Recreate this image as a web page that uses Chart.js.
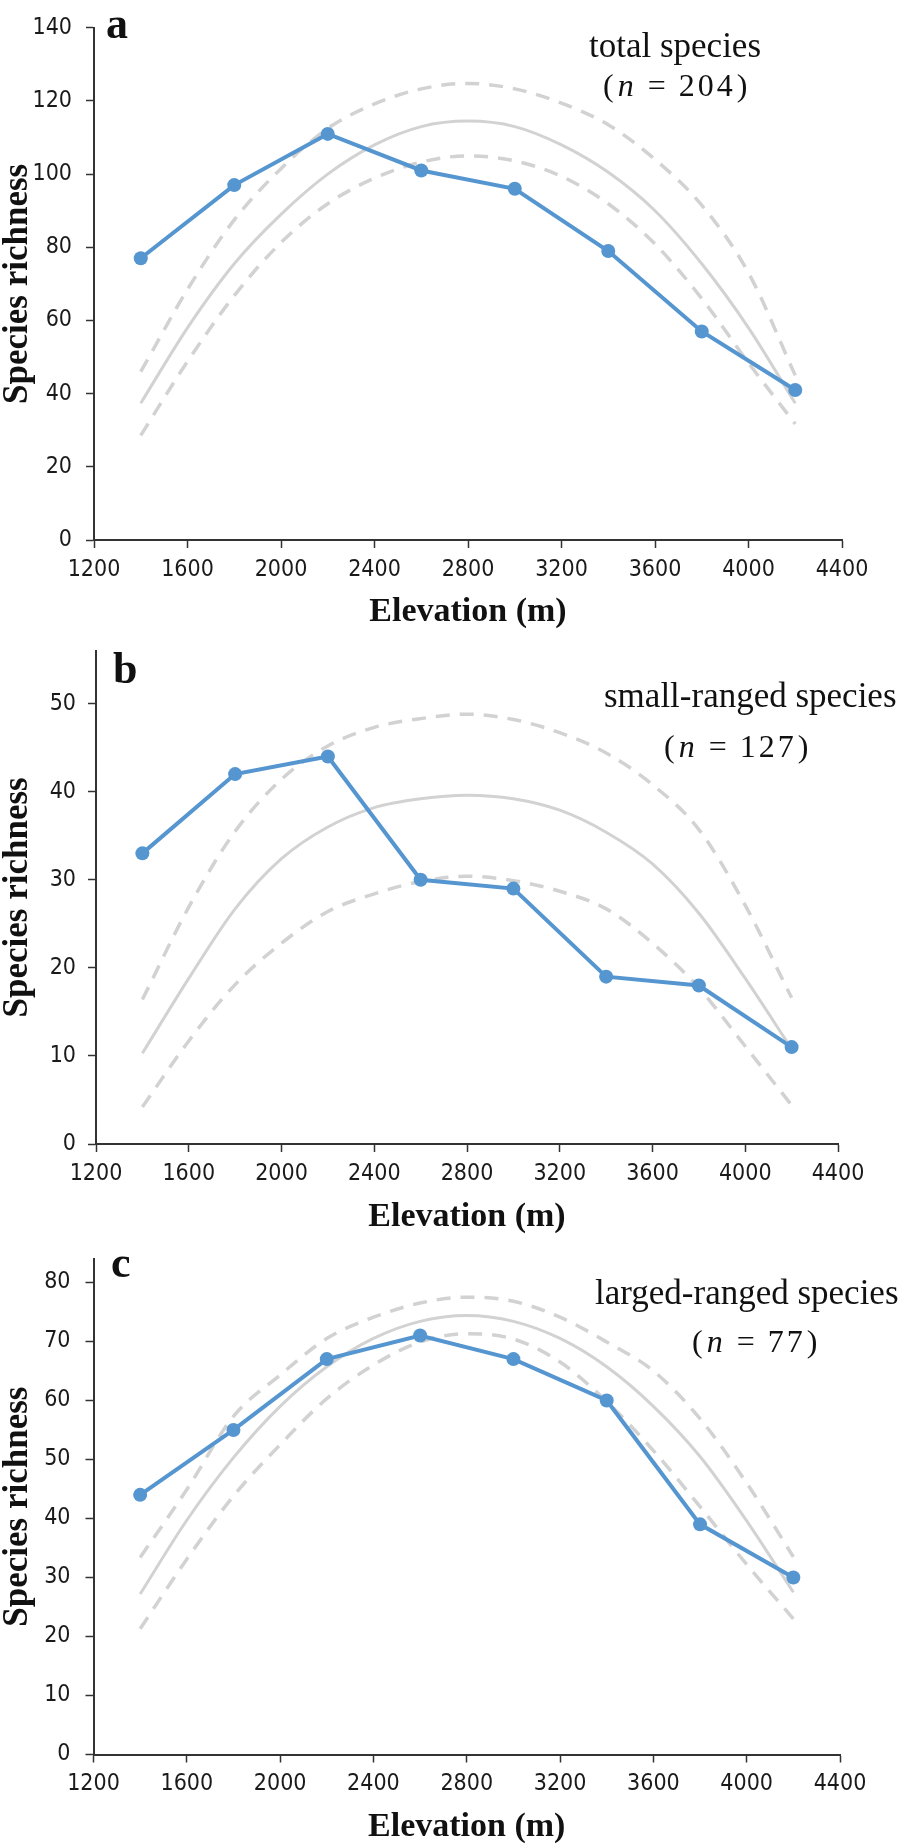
<!DOCTYPE html>
<html>
<head>
<meta charset="utf-8">
<script src="https://cdn.jsdelivr.net/npm/chart.js@4.4.1/dist/chart.umd.min.js"></script>
<style>
  body { margin: 0; background: #fff; }
  #wrap { position: relative; width: 898px; height: 1846px; overflow: hidden; }
  canvas { position: absolute; left: 0; display: block; }
</style>
</head>
<body>
<div id="wrap">
  <canvas id="chartA" width="898" height="640" style="top:0px"></canvas>
  <canvas id="chartB" width="898" height="620" style="top:625px"></canvas>
  <canvas id="chartC" width="898" height="616" style="top:1230px"></canvas>
</div>
<script>
// sampled elevations (m)
const elevations = [1400, 1800, 2200, 2600, 3000, 3400, 3800, 4200];
const fitElevations = [1400, 1600, 1800, 2000, 2200, 2400, 2600, 2800, 3000, 3200, 3400, 3600, 3800, 4000, 4200];

// a: total species (n = 204)
const richnessTotal = [77, 97, 111, 101, 96, 79, 57, 41];
const fitTotal   = [37.4, 58, 75.5, 89, 100, 108, 113, 114.5, 113, 108, 100.5, 90, 75.5, 58, 37.4];
const upperTotal = [46, 68.5, 87.5, 101.5, 112.5, 119.2, 123.3, 124.8, 123.3, 119.4, 113.5, 104, 91.5, 73, 45];
const lowerTotal = [28.6, 48.8, 66.8, 81.3, 91.9, 98.9, 103.3, 105, 103.6, 99.4, 91.9, 80.9, 66, 48.4, 31.7];

// b: small-ranged species (n = 127)
const richnessSmall = [33, 42, 44, 30, 29, 19, 18, 11];
const fitSmall   = [10.3, 18.8, 26.7, 32.4, 36, 38.2, 39.2, 39.6, 39.2, 37.9, 35.4, 31.8, 26.2, 18.8, 10.8];
const upperSmall = [16.4, 26.9, 35.5, 41.4, 45.2, 47.3, 48.3, 48.8, 48.2, 46.7, 44.4, 40.8, 35.7, 27.1, 16.6];
const lowerSmall = [4.2, 11.7, 18.1, 22.8, 26.4, 28.4, 29.8, 30.4, 29.9, 28.7, 26.7, 22.8, 17.7, 11.1, 4.4];

// c: large-ranged species (n = 77)
const richnessLarge = [44, 55, 67, 71, 67, 60, 39, 30];
const fitLarge   = [27.2, 39.7, 50.3, 59, 65.7, 70.5, 73.4, 74.4, 73.4, 70.5, 65.7, 59, 50.5, 39.6, 27.5];
const upperLarge = [33.4, 44.9, 57.3, 64.3, 70.5, 74.1, 76.5, 77.5, 76.8, 74.1, 69.9, 65, 56.9, 46, 33.5];
const lowerLarge = [21.3, 33.1, 43.8, 52.5, 60.3, 66, 69.9, 71.3, 70.4, 66.5, 59.8, 51.5, 42, 32.2, 23];

const BLUE = '#5596d0';
const GREY = '#d2d2d2';
const AXIS = '#333333';
const TICK_FONT = "'Liberation Sans Narrow', 'DejaVu Sans Condensed', sans-serif";
const SERIF = "'Liberation Serif', 'Times New Roman', serif";

function pts(xs, ys) {
  return xs.map((x, i) => ({ x: x, y: ys[i] }));
}

// "(n = 204)" with an italic n and loose spacing, left aligned at x
function drawCount(ctx, x, y, num) {
  ctx.textAlign = 'left';
  ctx.font = '32px ' + SERIF;
  ctx.fillText('(', x, y);
  x += ctx.measureText('(').width + 4;
  ctx.font = 'italic 32px ' + SERIF;
  ctx.fillText('n', x, y);
  x += ctx.measureText('n').width + 14;
  ctx.font = '32px ' + SERIF;
  ctx.fillText('=', x, y);
  x += ctx.measureText('=').width + 13;
  for (const ch of num) {
    ctx.fillText(ch, x, y);
    x += ctx.measureText(ch).width + 3;
  }
  ctx.fillText(')', x + 1, y);
}

function makeChart(id, p) {
  const labels = {
    id: 'panelText',
    afterDraw(chart) {
      const ctx = chart.ctx;
      ctx.save();
      ctx.fillStyle = '#111';
      ctx.textBaseline = 'alphabetic';
      ctx.textAlign = 'left';
      ctx.font = 'bold 44px ' + SERIF;
      ctx.fillText(p.letter, p.letterX, p.letterY);
      ctx.font = '35px ' + SERIF;
      ctx.textAlign = p.nameAlign;
      ctx.fillText(p.name, p.nameX, p.nameY);
      drawCount(ctx, p.countX, p.countY, p.count);
      ctx.restore();
    }
  };

  return new Chart(document.getElementById(id), {
    type: 'line',
    data: {
      datasets: [
        {
          data: pts(elevations, p.obs),
          borderColor: BLUE,
          backgroundColor: BLUE,
          borderWidth: 4,
          pointRadius: 7,
          pointBorderWidth: 0,
          tension: 0
        },
        {
          data: pts(fitElevations, p.fit),
          borderColor: GREY,
          borderWidth: 3,
          pointRadius: 0,
          cubicInterpolationMode: 'monotone'
        },
        {
          data: pts(fitElevations, p.upper),
          borderColor: GREY,
          borderWidth: 3.5,
          borderDash: [14, 10],
          pointRadius: 0,
          cubicInterpolationMode: 'monotone'
        },
        {
          data: pts(fitElevations, p.lower),
          borderColor: GREY,
          borderWidth: 3.5,
          borderDash: [14, 10],
          pointRadius: 0,
          cubicInterpolationMode: 'monotone'
        }
      ]
    },
    options: {
      responsive: false,
      animation: false,
      layout: {
        autoPadding: false,
        padding: { top: p.areaTop, right: 898 - p.areaRight, bottom: 0, left: 0 }
      },
      plugins: {
        legend: { display: false },
        tooltip: { enabled: false }
      },
      scales: {
        x: {
          type: 'linear',
          min: 1200,
          max: 4400,
          afterFit: s => { s.height = p.height - p.areaBottom; },
          border: { color: AXIS, width: 2 },
          grid: { drawOnChartArea: false, tickLength: 8, tickColor: AXIS, tickWidth: 1.5 },
          ticks: {
            stepSize: 400,
            autoSkip: false,
            maxRotation: 0,
            padding: 8,
            color: '#1a1a1a',
            font: { family: TICK_FONT, size: 23 },
            callback: v => v
          },
          title: {
            display: true,
            text: 'Elevation (m)',
            color: '#111',
            font: { family: SERIF, size: 34, weight: 'bold', lineHeight: 1 },
            padding: { top: 0, bottom: p.titlePad }
          }
        },
        y: {
          min: 0,
          max: p.yMax,
          afterFit: s => { s.width = p.areaLeft; },
          border: { color: AXIS, width: 2 },
          grid: { drawOnChartArea: false, tickLength: 8, tickColor: AXIS, tickWidth: 1.5 },
          ticks: {
            stepSize: p.yStep,
            includeBounds: false,
            padding: p.yPad,
            color: '#1a1a1a',
            font: { family: TICK_FONT, size: 23 },
            callback: v => v
          },
          title: {
            display: true,
            text: 'Species richness',
            color: '#111',
            font: { family: SERIF, size: 35, weight: 'bold', lineHeight: 1 },
            padding: { top: 0, bottom: 0 }
          }
        }
      }
    },
    plugins: [labels]
  });
}

makeChart('chartA', {
  obs: richnessTotal, fit: fitTotal, upper: upperTotal, lower: lowerTotal,
  height: 640, areaTop: 9, areaBottom: 540, areaLeft: 94, areaRight: 842,
  yMax: 140, yStep: 20, yPad: 14, titlePad: 11,
  letter: 'a', letterX: 106, letterY: 38,
  name: 'total species', nameAlign: 'center', nameX: 675, nameY: 57,
  count: '204', countX: 603, countY: 96
});

makeChart('chartB', {
  obs: richnessSmall, fit: fitSmall, upper: upperSmall, lower: lowerSmall,
  height: 620, areaTop: 23, areaBottom: 519, areaLeft: 96, areaRight: 838,
  yMax: 56, yStep: 10, yPad: 12, titlePad: 11,
  letter: 'b', letterX: 113, letterY: 58,
  name: 'small-ranged species', nameAlign: 'left', nameX: 604, nameY: 82,
  count: '127', countX: 664, countY: 132
});

makeChart('chartC', {
  obs: richnessLarge, fit: fitLarge, upper: upperLarge, lower: lowerLarge,
  height: 616, areaTop: 24, areaBottom: 524.5, areaLeft: 93.5, areaRight: 840,
  yMax: 84, yStep: 10, yPad: 15, titlePad: 2,
  letter: 'c', letterX: 111, letterY: 47,
  name: 'larged-ranged species', nameAlign: 'left', nameX: 595, nameY: 74,
  count: '77', countX: 692, countY: 122
});
</script>
</body>
</html>
